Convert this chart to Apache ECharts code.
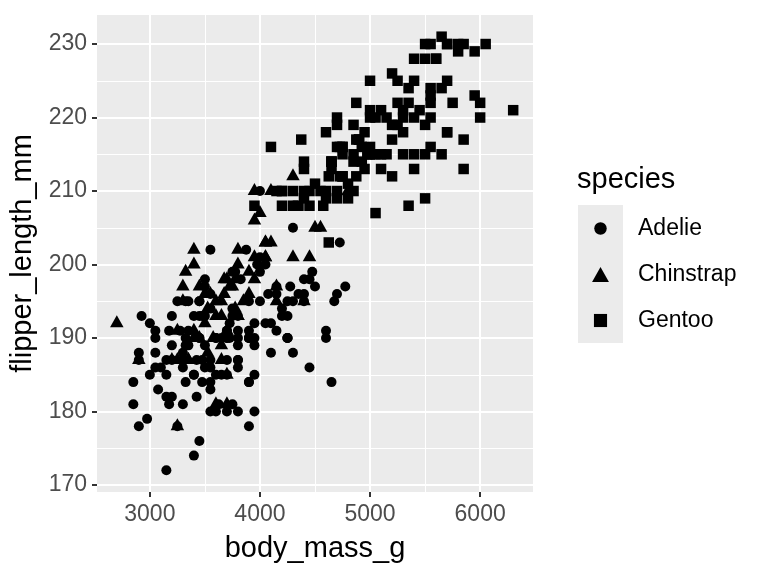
<!DOCTYPE html>
<html>
<head>
<meta charset="utf-8">
<script src="https://cdn.jsdelivr.net/npm/echarts@6/dist/echarts.min.js"></script>
<style>
  html, body { margin: 0; padding: 0; background: #fff; }
  #chart { width: 768px; height: 576px; }
</style>
</head>
<body>
<div id="chart"></div>
<script>
// penguins: body mass (g) and flipper length (mm), one pair of arrays per species
var species = ['Adelie', 'Chinstrap', 'Gentoo'];

var adelieMass = [3750, 3800, 3250, 3450, 3650, 3625, 4675, 3475, 4250, 3300, 3700, 3200, 3800, 4400, 3700, 3450, 4500, 3325, 4200,
    3400, 3600, 3800, 3950, 3800, 3800, 3550, 3200, 3150, 3950,
    3250, 3900, 3300, 3900, 3325, 4150, 3950, 3550, 3300, 4650, 3150, 3900, 3100, 4400, 3000, 4600, 3425, 2975, 3450, 4150,
    3500, 4300, 3450, 4050, 2900, 3700, 3550, 3800, 2850, 3750, 3150, 4400, 3600, 4050, 2850, 3950, 3350, 4100,
    3050, 4450, 3600, 3900, 3550, 4150, 3700, 4250, 3700, 3900, 3550, 4000, 3200, 4700, 3800, 4200,
    3350, 3550, 3800, 3500, 3950, 3600, 3550, 4300, 3400, 4450, 3300, 4300, 3700, 4350, 2900, 4100,
    3725, 4725, 3075, 4250, 2925, 3550, 3750, 3900, 3175, 4775, 3825, 4600, 3200, 4275, 3900, 4075,
    2900, 3775, 3350, 3325, 3150, 3500, 3450, 3875, 3050, 4000, 3275, 4300, 3050, 4000, 3325, 3500,
    3500, 4475, 3425, 3900, 3175, 3975, 3400, 4250, 3400, 3475, 3050, 3725, 3000, 3650, 4250, 3475, 3450, 3750, 3700, 4000];
var adelieFlipper = [181, 186, 195, 193, 190, 181, 195, 193, 190, 186, 180, 182, 191, 198, 185, 195, 197, 184, 194,
    174, 180, 189, 185, 180, 187, 183, 187, 172, 180,
    178, 178, 188, 184, 195, 196, 190, 180, 181, 184, 182, 195, 186, 196, 185, 190, 182, 179, 190, 191,
    186, 188, 190, 200, 187, 191, 186, 193, 181, 194, 185, 195, 185, 192, 184, 192, 195, 188,
    190, 198, 190, 190, 196, 197, 190, 195, 191, 184, 187, 195, 189, 196, 187, 193,
    191, 194, 190, 189, 189, 190, 202, 205, 185, 186, 187, 208, 190, 196, 178, 192,
    192, 203, 183, 190, 193, 184, 199, 190, 181, 197, 198, 191, 193, 197, 191, 196,
    188, 199, 189, 189, 187, 198, 176, 202, 186, 199, 191, 195, 191, 210, 190, 197,
    193, 199, 187, 190, 191, 200, 185, 193, 193, 187, 188, 190, 192, 185, 190, 184, 195, 193, 187, 201];

var chinstrapMass = [3500, 3900, 3650, 3525, 3725, 3950, 3250, 3750, 4150, 3700, 3800, 3775, 3700, 4050, 3575, 4050, 3300,
    3700, 3450, 4400, 3600, 3400, 2900, 3800, 3300, 4150, 3400, 3800, 3700, 4550, 3200, 4300, 3350, 4100,
    3600, 3900, 3850, 4800, 2700, 4500, 3950, 3650, 3550, 3500, 3675, 4450, 3400, 4300, 3250, 3675, 3325,
    3950, 3600, 4050, 3350, 3450, 3250, 4050, 3800, 3525, 3950, 3650, 3650, 4000, 3400, 3775, 4100, 3775];
var chinstrapFlipper = [192, 196, 193, 188, 197, 198, 178, 197, 195, 198, 193, 194, 185, 201, 190, 201, 197,
    181, 190, 195, 181, 191, 187, 193, 195, 197, 200, 200, 191, 205, 187, 201, 187, 203,
    195, 199, 195, 210, 192, 205, 210, 187, 196, 196, 196, 201, 190, 212, 187, 198, 199,
    201, 193, 203, 187, 197, 191, 203, 202, 194, 206, 189, 195, 207, 202, 193, 210, 198];

var gentooMass = [4500, 5700, 4450, 5700, 5400, 4550, 4800, 5200, 4400, 5150, 4650, 5550, 4650, 5850, 4200, 5850, 4150,
    6300, 4800, 5350, 5700, 5000, 4400, 5050, 5000, 5100, 4100, 5650, 4600, 5550, 5250, 4700, 5050, 6050,
    5150, 5400, 4950, 5250, 4350, 5350, 3950, 5700, 4300, 4750, 5550, 4900, 4200, 5400, 5100, 5300, 4850,
    5300, 4400, 5000, 4900, 5050, 4300, 5000, 4450, 5550, 4200, 5300, 4400, 5650, 4700, 5700, 4650, 5800,
    4700, 5550, 4750, 5000, 5100, 5200, 4700, 5800, 4600, 6000, 4750, 5950, 4625, 5450, 4725, 5350, 4750,
    5600, 4600, 5300, 4875, 5550, 4950, 5400, 4750, 5650, 4850, 5200, 4925, 4875, 4625, 5250, 4850, 5600,
    4975, 5500, 4725, 5500, 4700, 5500, 4575, 5500, 5000, 5950, 4650, 5500, 4375, 5850, 4875, 6000, 4925,
    4850, 5750, 5200, 5400];
var gentooFlipper = [211, 230, 210, 218, 215, 210, 211, 219, 209, 215, 214, 216, 214, 213, 210, 217, 210,
    221, 209, 222, 218, 215, 213, 215, 215, 215, 216, 215, 210, 220, 222, 209, 207, 230,
    220, 220, 213, 219, 208, 208, 208, 225, 210, 216, 222, 217, 210, 225, 213, 215, 210,
    220, 210, 225, 217, 220, 208, 220, 208, 224, 208, 221, 214, 231, 219, 230, 214, 229,
    220, 223, 216, 221, 221, 217, 216, 230, 209, 220, 215, 223, 212, 221, 212, 224, 212,
    228, 218, 218, 212, 230, 218, 228, 212, 224, 214, 226, 216, 222, 203, 225, 219, 228,
    215, 228, 216, 215, 210, 219, 208, 209, 216, 229, 213, 230, 217, 230, 217, 222, 214,
    215, 222, 212, 213];

var xTicks = [3000, 4000, 5000, 6000];
var xMinor = [3500, 4500, 5500];
var yTicks = [170, 180, 190, 200, 210, 220, 230];
var yMinor = [175, 185, 195, 205, 215, 225];

var pairs = function(xs, ys) {
    return xs.map(function(x, i) { return [x, ys[i]]; });
};

var font = 'Liberation Sans, Arial, Helvetica, sans-serif';
var X_MIN = 2520, X_MAX = 6480, Y_MIN = 169.05, Y_MAX = 233.95;

// marker shapes
var shapes = [
    { symbol: 'circle', w: 10, h: 10, offset: [0, 0] },
    { symbol: 'triangle', w: 13.5, h: 12, offset: [0, -2] },
    { symbol: 'rect', w: 10.5, h: 10.5, offset: [0, 0] }
];
var seriesData = [
    pairs(adelieMass, adelieFlipper),
    pairs(chinstrapMass, chinstrapFlipper),
    pairs(gentooMass, gentooFlipper)
];

// one small legend per key so each icon keeps its own size
// (legend draws symbol icons a little smaller than itemWidth, so scale up)
var keyScale = 1.25;
var keyCenterX = 600.5, textLeft = 638, keyTops = [228.5, 274.5, 320.5];
var legends = species.map(function(name, i) {
    var s = shapes[i];
    var w = s.w * keyScale, h = s.h * keyScale;
    return {
        orient: 'vertical',
        left: keyCenterX - w / 2,
        top: keyTops[i] - 14,
        padding: 0,
        itemWidth: w,
        itemHeight: h,
        symbolKeepAspect: false,
        selectedMode: false,
        data: [name],
        textStyle: {
            fontFamily: font, fontSize: 23, color: '#000', lineHeight: 28,
            padding: [0, 0, 0, textLeft - (keyCenterX + w / 2 + 5)]
        }
    };
});

var myChart = echarts.init(document.getElementById('chart'));

var option = {
    animation: false,
    backgroundColor: '#ffffff',
    title: {
        text: 'species',
        left: 577,
        top: 165,
        padding: 0,
        textStyle: { fontFamily: font, fontSize: 29, fontWeight: 'normal', color: '#000' }
    },
    graphic: [{
        // grey backdrop behind the legend keys
        type: 'rect',
        left: 578,
        top: 205,
        shape: { width: 45, height: 138 },
        style: { fill: '#ebebeb' },
        z: 0
    }],
    legend: legends,
    grid: {
        left: 97, right: 235, top: 15, bottom: 84,
        show: true,
        backgroundColor: '#ebebeb',
        borderWidth: 0,
        containLabel: false
    },
    xAxis: [{
        type: 'value',
        min: X_MIN, max: X_MAX,
        name: 'body_mass_g',
        nameLocation: 'middle',
        nameGap: 42,
        nameTextStyle: { fontFamily: font, fontSize: 29, color: '#000' },
        axisLine: { show: false },
        axisTick: { show: true, length: 5, customValues: xTicks, lineStyle: { color: '#333', width: 2 } },
        axisLabel: {
            customValues: xTicks, margin: 11, fontFamily: font, fontSize: 23, color: '#4d4d4d',
            formatter: function(v) { return String(v); }
        },
        splitLine: { show: true, lineStyle: { color: '#fff', width: 2 } }
    }, {
        // minor grid lines only
        type: 'value',
        min: X_MIN, max: X_MAX,
        position: 'bottom',
        axisLine: { show: false },
        axisTick: { show: false, customValues: xMinor },
        axisLabel: { show: false, customValues: xMinor },
        splitLine: { show: true, lineStyle: { color: '#fff', width: 1 } }
    }],
    yAxis: [{
        type: 'value',
        min: Y_MIN, max: Y_MAX,
        name: 'flipper_length_mm',
        nameLocation: 'middle',
        nameGap: 52,
        nameRotate: 90,
        nameTextStyle: { fontFamily: font, fontSize: 29, color: '#000' },
        axisLine: { show: false },
        axisTick: { show: true, length: 5, customValues: yTicks, lineStyle: { color: '#333', width: 2 } },
        axisLabel: { customValues: yTicks, margin: 10, fontFamily: font, fontSize: 23, color: '#4d4d4d' },
        splitLine: { show: true, lineStyle: { color: '#fff', width: 2 } }
    }, {
        type: 'value',
        min: Y_MIN, max: Y_MAX,
        position: 'left',
        axisLine: { show: false },
        axisTick: { show: false, customValues: yMinor },
        axisLabel: { show: false, customValues: yMinor },
        splitLine: { show: true, lineStyle: { color: '#fff', width: 1 } }
    }],
    series: species.map(function(name, i) {
        var s = shapes[i];
        return {
            name: name,
            type: 'scatter',
            symbol: s.symbol,
            symbolSize: [s.w, s.h],
            symbolOffset: s.offset,
            itemStyle: { color: '#000', opacity: 1 },
            data: seriesData[i]
        };
    })
};

myChart.setOption(option, true);
</script>
</body>
</html>
